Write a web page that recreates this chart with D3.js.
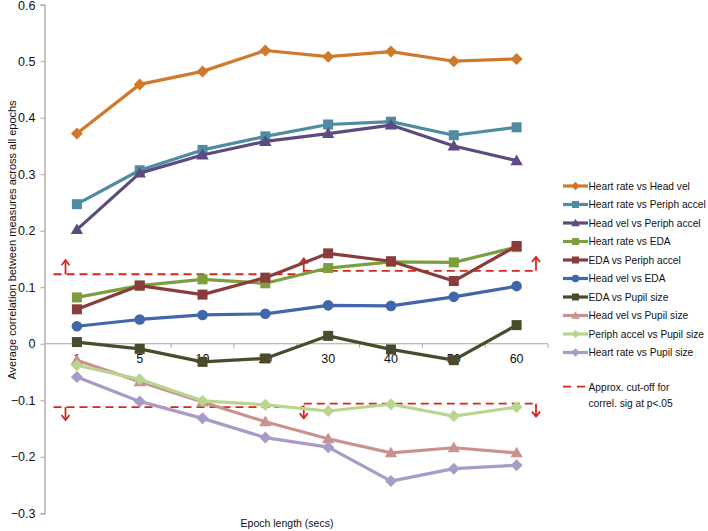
<!DOCTYPE html>
<html><head><meta charset="utf-8">
<script src="https://cdn.jsdelivr.net/npm/d3@7"></script>
<style>
html,body{margin:0;padding:0;background:#fff;}
svg{display:block;font-family:"Liberation Sans",Arial,Helvetica,sans-serif;}
</style></head>
<body>
<svg id="chart" width="708" height="531"></svg>
<script>
const categories = ["1","5","10","20","30","40","50","60"];
const yTicks = [0.6,0.5,0.4,0.3,0.2,0.1,0,-0.1,-0.2,-0.3];

const hrHeadVel      = [0.372,0.459,0.482,0.519,0.508,0.517,0.500,0.504];
const hrPeriphAccel  = [0.247,0.307,0.343,0.367,0.388,0.393,0.369,0.383];
const headVelPeriph  = [0.202,0.302,0.334,0.358,0.372,0.387,0.350,0.324];
const hrEDA          = [0.082,0.103,0.114,0.107,0.134,0.145,0.144,0.171];
const edaPeriph      = [0.061,0.103,0.087,0.117,0.160,0.146,0.111,0.173];
const headVelEDA     = [0.031,0.043,0.051,0.053,0.068,0.067,0.083,0.102];
const edaPupil       = [0.003,-0.009,-0.032,-0.026,0.014,-0.010,-0.029,0.033];
const headVelPupil   = [-0.029,-0.067,-0.103,-0.138,-0.168,-0.193,-0.184,-0.193];
const periphPupil    = [-0.038,-0.063,-0.101,-0.108,-0.119,-0.107,-0.128,-0.112];
const hrPupil        = [-0.059,-0.102,-0.132,-0.166,-0.183,-0.243,-0.221,-0.215];

const seriesNames = ["Heart rate vs Head vel","Heart rate vs Periph accel","Head vel vs Periph accel",
  "Heart rate vs EDA","EDA vs Periph accel","Head vel vs EDA","EDA vs Pupil size",
  "Head vel vs Pupil size","Periph accel vs Pupil size","Heart rate vs Pupil size"];
const seriesValues = [hrHeadVel,hrPeriphAccel,headVelPeriph,hrEDA,edaPeriph,headVelEDA,edaPupil,headVelPupil,periphPupil,hrPupil];
const seriesColors = ["#d0792a","#4f8ba2","#5d4a80","#7d9e3e","#8a3b3b","#4166a9","#4a4a2c","#c9928f","#bad590","#a89bc7"];
const seriesShapes = ["diamond","square","triangle","square","square","circle","square","triangle","diamond","diamond"];

// approximate significance cut-off (left segment, right segment)
const cutoffUpper = [0.123, 0.129];
const cutoffLower = [-0.112, -0.106];
const cutoffLabel = ["Approx. cut-off for","correl. sig at p<.05"];

const svg = d3.select("#chart");
const x = d3.scaleBand().domain(categories).range([45.5, 548]).paddingInner(0).paddingOuter(0);
const y = d3.scaleLinear().domain([-0.3, 0.6]).range([513.3, 4.7]);
const cx = d => x(d) + x.bandwidth()/2;
const axisColor = "#a6a6a6";

// Y axis
const yAxis = svg.append("g").attr("transform","translate(44.5,0)")
  .call(d3.axisLeft(y).tickValues(yTicks).tickSize(4).tickPadding(5)
    .tickFormat(d => d === 0 ? "0" : d3.format(".1f")(d)));
yAxis.select(".domain").attr("stroke",axisColor).attr("stroke-width",1.3);
yAxis.selectAll(".tick line").attr("stroke",axisColor).attr("stroke-width",1);
yAxis.selectAll("text").attr("font-size","12.5px").attr("fill","#111")
  .attr("font-family","Liberation Sans, Arial, sans-serif")
  .attr("dy", d => d === 0.6 ? "0.42em" : "0.32em");

// X axis at zero
const xAxisG = svg.append("g").attr("transform",`translate(0,${y(0)})`);
xAxisG.append("line").attr("x1",x.range()[0]).attr("x2",x.range()[1])
  .attr("stroke",axisColor).attr("stroke-width",1.2);
const bounds = categories.map(c => x(c)).concat([x.range()[1]]);
xAxisG.selectAll("line.tk").data(bounds.slice(1)).enter().append("line").attr("class","tk")
  .attr("x1",d=>d).attr("x2",d=>d).attr("y1",0).attr("y2",4).attr("stroke",axisColor);
xAxisG.selectAll("text").data(categories).enter().append("text")
  .attr("x",d=>cx(d)).attr("y",19).attr("text-anchor","middle")
  .attr("font-size","12.5px").attr("fill","#111").text(d=>d);

// axis titles
svg.append("text").attr("x",287).attr("y",527).attr("text-anchor","middle")
  .attr("font-size","10.5px").attr("fill","#111").text("Epoch length (secs)");
svg.append("text").attr("transform","translate(16,240) rotate(-90)").attr("text-anchor","middle")
  .attr("font-size","11px").attr("fill","#111").text("Average correlation between measures across all epochs");

// marker drawing
function marker(sel, shape, color, size){
  const s = size;
  if(shape==="square") sel.append("rect").attr("x",-s/2).attr("y",-s/2).attr("width",s).attr("height",s).attr("fill",color);
  else if(shape==="circle") sel.append("circle").attr("r",s/2+0.3).attr("fill",color);
  else if(shape==="diamond") sel.append("path").attr("d",`M0,${-s*0.6}L${s*0.6},0L0,${s*0.6}L${-s*0.6},0Z`).attr("fill",color);
  else if(shape==="triangle") sel.append("path").attr("d",`M0,${-s*0.62}L${s*0.62},${s*0.45}L${-s*0.62},${s*0.45}Z`).attr("fill",color);
}

// cut-off annotations
const red = "#d7261e";
const cutG = svg.append("g");
function arrow(xp, y0, y1){
  cutG.append("line").attr("x1",xp).attr("x2",xp).attr("y1",y0).attr("y2",y1)
    .attr("stroke",red).attr("stroke-width",1.8);
  const dir = y1 < y0 ? 1 : -1;
  cutG.append("path").attr("d",`M${xp-4},${y1+dir*5}L${xp},${y1}L${xp+4},${y1+dir*5}`)
    .attr("fill","none").attr("stroke",red).attr("stroke-width",1.8);
}
const xLeft = x.range()[0] + 8, xMid = (cx("20")+cx("30"))/2 + 7, xRight = x.range()[1] - 12;
[[cutoffUpper,-14],[cutoffLower,13]].forEach(([vals,dy])=>{
  const yl = y(vals[0]), yr = y(vals[1]);
  cutG.append("line").attr("x1",xLeft).attr("x2",xMid).attr("y1",yl).attr("y2",yl)
    .attr("stroke",red).attr("stroke-width",1.8).attr("stroke-dasharray","8,5");
  cutG.append("line").attr("x1",xMid).attr("x2",xRight).attr("y1",yr).attr("y2",yr)
    .attr("stroke",red).attr("stroke-width",1.8).attr("stroke-dasharray","8,5");
  arrow(xLeft+12, yl, yl+dy);
  arrow(xMid, (yl+yr)/2, (yl+yr)/2+dy);
  arrow(xRight, yr, yr+dy);
});

// series
const line = d3.line().x((d,i)=>cx(categories[i])).y(d=>y(d));
seriesValues.forEach((vals,k)=>{
  const g = svg.append("g");
  g.append("path").attr("d",line(vals)).attr("fill","none")
    .attr("stroke",seriesColors[k]).attr("stroke-width",3.2).attr("stroke-linejoin","round");
  vals.forEach((v,i)=>{
    const m = g.append("g").attr("transform",`translate(${cx(categories[i])},${y(v)})`);
    marker(m, seriesShapes[k], seriesColors[k], 10);
  });
});

// legend
const lg = svg.append("g");
seriesNames.forEach((name,k)=>{
  const yy = 186 + k*18.5;
  lg.append("line").attr("x1",563).attr("x2",588).attr("y1",yy).attr("y2",yy)
    .attr("stroke",seriesColors[k]).attr("stroke-width",3.2);
  const m = lg.append("g").attr("transform",`translate(575.5,${yy})`);
  marker(m, seriesShapes[k], seriesColors[k], 7);
  lg.append("text").attr("x",588.5).attr("y",yy+3.6).attr("font-size","10.2px").attr("fill","#111").text(name);
});
lg.append("line").attr("x1",563).attr("x2",586).attr("y1",386.7).attr("y2",386.7)
  .attr("stroke",red).attr("stroke-width",1.8).attr("stroke-dasharray","8,6");
cutoffLabel.forEach((t,i)=>{
  lg.append("text").attr("x",588.5).attr("y",390.5+i*16).attr("font-size","10.2px").attr("fill","#111").text(t);
});
</script>
</body></html>
